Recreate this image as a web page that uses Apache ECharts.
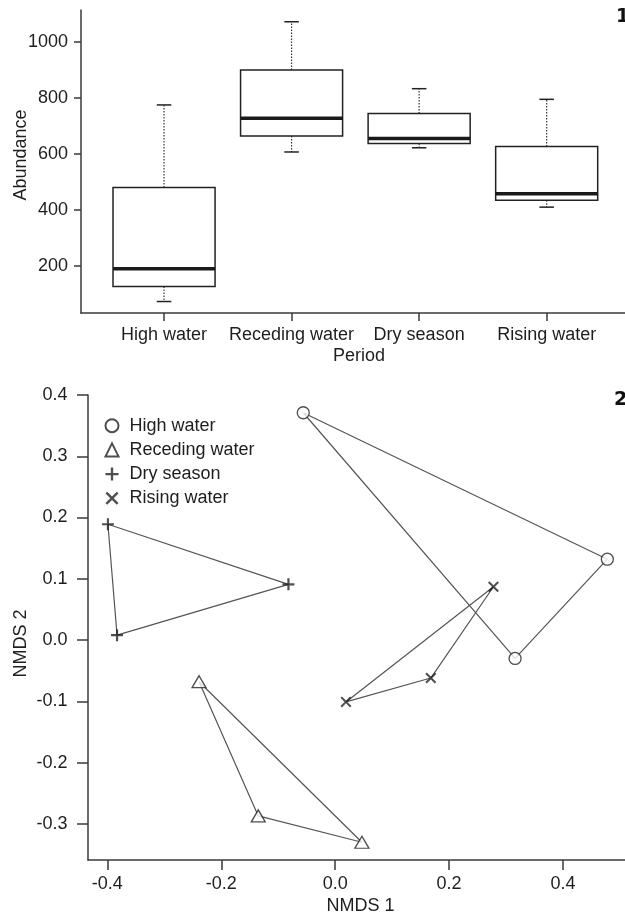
<!DOCTYPE html>
<html>
<head>
<meta charset="utf-8">
<style>
  html, body { margin: 0; padding: 0; background: #fff; }
  #chart { width: 625px; height: 916px; }
</style>
<script src="https://cdn.jsdelivr.net/npm/echarts@6/dist/echarts.min.js"></script>
</head>
<body>
<div id="chart"></div>
<script>
// ---- Panel 1: boxplot data ----
const categories = ['High water', 'Receding water', 'Dry season', 'Rising water'];
const whiskerLow  = [73, 607, 622, 410];
const quart1      = [127, 664, 637, 435];
const medians     = [190, 727, 655, 458];
const quart3      = [480, 900, 744, 627];
const whiskerHigh = [775, 1072, 833, 795];
const abundanceTicks = [200, 400, 600, 800, 1000];

// ---- Panel 2: NMDS ordination ----
const highWater     = [[-0.056, 0.371], [0.478, 0.132], [0.316, -0.030]];
const recedingWater = [[-0.239, -0.068], [-0.135, -0.287], [0.047, -0.330]];
const drySeason     = [[-0.399, 0.189], [-0.082, 0.091], [-0.383, 0.008]];
const risingWater   = [[0.278, 0.087], [0.168, -0.062], [0.019, -0.101]];
const nmds1Ticks = [-0.4, -0.2, 0.0, 0.2, 0.4];
const nmds2Ticks = [-0.3, -0.2, -0.1, 0.0, 0.1, 0.2, 0.3, 0.4];

const FONT = 'Liberation Sans';
const TXT = '#1e1e1e';
const AX = '#3a3a3a';

const boxData = categories.map((c, i) => [i + 1, whiskerLow[i], quart1[i], medians[i], quart3[i], whiskerHigh[i]]);
const closeRing = pts => pts.concat([pts[0]]);

const plusPath = 'path://M4.1,0H5.9V4.1H10V5.9H5.9V10H4.1V5.9H0V4.1H4.1Z';
const crossPath = 'path://M0,1.3L1.3,0L5,3.7L8.7,0L10,1.3L6.3,5L10,8.7L8.7,10L5,6.3L1.3,10L0,8.7L3.7,5Z';

const chart = echarts.init(document.getElementById('chart'), null, { renderer: 'canvas' });

function axisCommon(gridIndex) {
  return {
    gridIndex,
    nameMoveOverlap: false,
    axisLine: { show: true, onZero: false, lineStyle: { color: AX, width: 1.5 } },
    splitLine: { show: false },
    nameTextStyle: { color: TXT, fontFamily: FONT, fontSize: 18 }
  };
}

const option = {
  backgroundColor: '#fff',
  animation: false,
  title: [
    { text: '1', left: 616, top: 8, padding: 0, textStyle: { fontFamily: 'DejaVu Sans', fontWeight: 'bold', fontSize: 19, color: '#111' } },
    { text: '2', left: 614, top: 391, padding: 0, textStyle: { fontFamily: 'DejaVu Sans', fontWeight: 'bold', fontSize: 19, color: '#111' } }
  ],
  grid: [
    { left: 81, top: 10, right: 0, height: 303, containLabel: false, outerBoundsMode: 'none' },
    { left: 88, top: 395, right: 0, height: 465, containLabel: false, outerBoundsMode: 'none' }
  ],
  legend: {
    left: 99.5, top: 411.7, orient: 'vertical',
    itemWidth: 13, itemHeight: 13, itemGap: 6.2,
    data: ['High water', 'Receding water', 'Dry season', 'Rising water'],
    textStyle: { color: TXT, fontFamily: FONT, fontSize: 18, lineHeight: 18, padding: [0, 0, 0, 6] }
  },
  xAxis: [
    Object.assign(axisCommon(0), {
      type: 'value', min: 0.349, max: 4.614,
      name: 'Period', nameLocation: 'middle', nameGap: 34.5,
      nameTextStyle: { color: TXT, fontFamily: FONT, fontSize: 18, padding: [0, 0, 0, 12] },
      axisTick: { show: true, length: 8, customValues: [1, 2, 3, 4], lineStyle: { color: AX, width: 1.5 } },
      axisLabel: { color: TXT, fontFamily: FONT, fontSize: 18, margin: 13, customValues: [1, 2, 3, 4],
        hideOverlap: false, formatter: v => categories[Math.round(v) - 1] || '' }
    }),
    Object.assign(axisCommon(1), {
      type: 'value', min: -0.434, max: 0.509,
      name: 'NMDS 1', nameLocation: 'middle', nameGap: 37.5,
      nameTextStyle: { color: TXT, fontFamily: FONT, fontSize: 18, padding: [0, 0, 0, 8] },
      axisTick: { show: true, length: 10, customValues: nmds1Ticks, lineStyle: { color: AX, width: 1.5 } },
      axisLabel: { color: TXT, fontFamily: FONT, fontSize: 18, margin: 15.5, customValues: nmds1Ticks,
        formatter: v => v.toFixed(1) }
    })
  ],
  yAxis: [
    Object.assign(axisCommon(0), {
      type: 'value', min: 32, max: 1114,
      name: 'Abundance', nameLocation: 'middle', nameGap: 51,
      nameTextStyle: { color: TXT, fontFamily: FONT, fontSize: 18, padding: [0, 0, 0, 13] },
      axisTick: { show: true, length: 7, customValues: abundanceTicks, lineStyle: { color: AX, width: 1.5 } },
      axisLabel: { color: TXT, fontFamily: FONT, fontSize: 18, margin: 13, customValues: abundanceTicks,
        formatter: v => String(Math.round(v)) }
    }),
    Object.assign(axisCommon(1), {
      type: 'value', min: -0.359, max: 0.4,
      name: 'NMDS 2', nameLocation: 'middle', nameGap: 58,
      nameTextStyle: { color: TXT, fontFamily: FONT, fontSize: 18, padding: [0, 32, 0, 0] },
      axisTick: { show: true, length: 11, customValues: nmds2Ticks, lineStyle: { color: AX, width: 1.5 } },
      axisLabel: { color: TXT, fontFamily: FONT, fontSize: 18, margin: 20.5, customValues: nmds2Ticks,
        formatter: v => v.toFixed(1) }
    })
  ],
  series: [
    {
      type: 'custom', xAxisIndex: 0, yAxisIndex: 0,
      data: boxData,
      encode: { x: 0, y: [1, 2, 3, 4, 5] },
      clip: false,
      renderItem: function (params, api) {
        const x = api.value(0);
        const lo = api.coord([x, api.value(1)]);
        const q1 = api.coord([x, api.value(2)]);
        const md = api.coord([x, api.value(3)]);
        const q3 = api.coord([x, api.value(4)]);
        const hi = api.coord([x, api.value(5)]);
        const left = api.coord([x - 0.4, api.value(3)])[0];
        const right = api.coord([x + 0.4, api.value(3)])[0];
        const capL = api.coord([x - 0.057, api.value(3)])[0];
        const capR = api.coord([x + 0.057, api.value(3)])[0];
        const cx = md[0];
        const dotted = { stroke: '#333', lineWidth: 1.2, lineDash: [1.5, 1.5] };
        const solid = { stroke: '#222', lineWidth: 1.5 };
        return {
          type: 'group',
          children: [
            { type: 'line', shape: { x1: cx, y1: q3[1], x2: cx, y2: hi[1] }, style: dotted },
            { type: 'line', shape: { x1: cx, y1: q1[1], x2: cx, y2: lo[1] }, style: dotted },
            { type: 'line', shape: { x1: capL, y1: hi[1], x2: capR, y2: hi[1] }, style: solid },
            { type: 'line', shape: { x1: capL, y1: lo[1], x2: capR, y2: lo[1] }, style: solid },
            { type: 'rect', shape: { x: left, y: q3[1], width: right - left, height: q1[1] - q3[1] },
              style: { fill: '#fff', stroke: '#222', lineWidth: 1.5 } },
            { type: 'line', shape: { x1: left, y1: md[1], x2: right, y2: md[1] }, style: { stroke: '#1a1a1a', lineWidth: 3.5 } }
          ]
        };
      }
    },
    // hull outlines
    ...[highWater, recedingWater, drySeason, risingWater].map(g => ({
      type: 'line', xAxisIndex: 1, yAxisIndex: 1, data: closeRing(g),
      showSymbol: false, silent: true, z: 1,
      lineStyle: { color: '#555', width: 1.2 }
    })),
    {
      name: 'High water', type: 'scatter', xAxisIndex: 1, yAxisIndex: 1, data: highWater, z: 3,
      symbol: 'circle', symbolSize: 12,
      itemStyle: { color: '#fff', borderColor: '#222', borderWidth: 1.3 }
    },
    {
      name: 'Receding water', type: 'scatter', xAxisIndex: 1, yAxisIndex: 1, data: recedingWater, z: 3,
      symbol: 'triangle', symbolSize: [14, 12],
      itemStyle: { color: '#fff', borderColor: '#222', borderWidth: 1.3 }
    },
    {
      name: 'Dry season', type: 'scatter', xAxisIndex: 1, yAxisIndex: 1, data: drySeason, z: 3,
      symbol: plusPath, symbolSize: 12,
      itemStyle: { color: '#222', borderWidth: 0 }
    },
    {
      name: 'Rising water', type: 'scatter', xAxisIndex: 1, yAxisIndex: 1, data: risingWater, z: 3,
      symbol: crossPath, symbolSize: 11,
      itemStyle: { color: '#222', borderWidth: 0 }
    }
  ]
};

chart.setOption(option);
</script>
</body>
</html>
